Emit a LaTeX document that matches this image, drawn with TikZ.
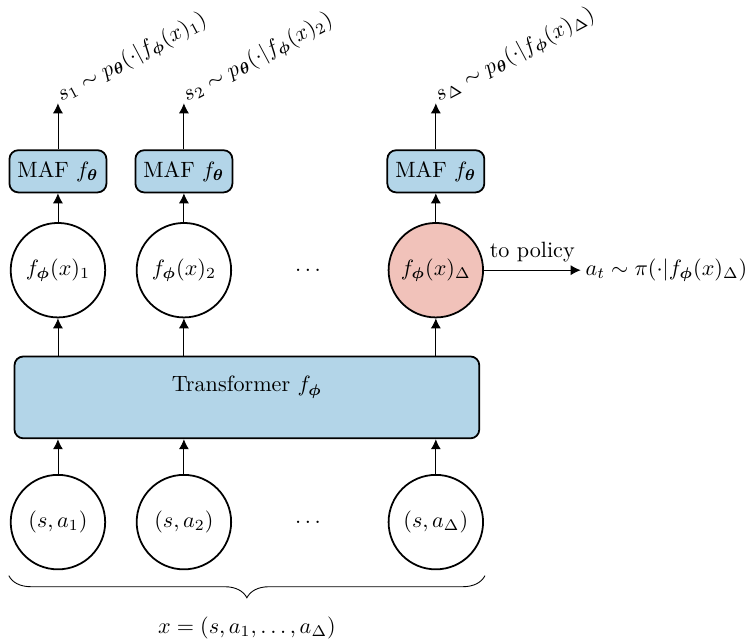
\documentclass[tikz,border=0pt]{standalone}
\usepackage{amsmath,amssymb}
\usepackage{bm}
\usepackage{tikz}
\usetikzlibrary{arrows.meta}
\usetikzlibrary{decorations.pathreplacing}

\definecolor{blockblue}{RGB}{179,213,232}
\definecolor{outred}{RGB}{241,194,186}

\tikzset{
    token/.style={draw,circle,thick,minimum size=1.5cm,inner sep=0pt},
    block/.style={draw,thick,rounded corners=4pt,fill=blockblue},
    flow/.style={-{Latex[length=4.5pt,width=4.5pt]}},
    sample/.style={rotate=28,anchor=base west,inner sep=1.5pt},
}

\begin{document}
\begin{tikzpicture}
        \useasboundingbox (-0.92,-1.86) rectangle (11.02,8.29);

        % inputs
        \node[token] (in1) at (0,0) {$(s,a_1)$};
        \node[token] (in2) at (2,0) {$(s,a_2)$};
        \node (indots) at (4,0) {$\dots$};
        \node[token] (in3) at (6,0) {$(s,a_\Delta)$};

        \draw[decorate,decoration={brace,mirror,amplitude=10pt}]
            (-0.78,-0.85) -- (6.78,-0.85);
        \node (x) at (3,-1.68) {$x=(s,a_1,\dots,a_\Delta)$};

        % transformer
        \node[block,minimum width=7.38cm,minimum height=1.3cm] (trans) at (3,1.98) {};
        \node (translabel) at (3,2.14) {Transformer $f_{\bm{\phi}}$};

        \draw[flow] (in1) -- (in1 |- trans.south);
        \draw[flow] (in2) -- (in2 |- trans.south);
        \draw[flow] (in3) -- (in3 |- trans.south);

        % embeddings
        \node[token] (emb1) at (0,4) {$f_{\bm{\phi}}(x)_1$};
        \node[token] (emb2) at (2,4) {$f_{\bm{\phi}}(x)_2$};
        \node (embdots) at (4,4) {$\dots$};
        \node[token,fill=outred] (emb3) at (6,4) {$f_{\bm{\phi}}(x)_\Delta$};

        \draw[flow] (emb1 |- trans.north) -- (emb1);
        \draw[flow] (emb2 |- trans.north) -- (emb2);
        \draw[flow] (emb3 |- trans.north) -- (emb3);

        % flows
        \node[block,minimum width=1.54cm,minimum height=0.67cm] (maf1) at (0,5.57) {MAF $f_{\bm{\theta}}$};
        \node[block,minimum width=1.54cm,minimum height=0.67cm] (maf2) at (2,5.57) {MAF $f_{\bm{\theta}}$};
        \node[block,minimum width=1.54cm,minimum height=0.67cm] (maf3) at (6,5.57) {MAF $f_{\bm{\theta}}$};

        \draw[flow] (emb1) -- (maf1);
        \draw[flow] (emb2) -- (maf2);
        \draw[flow] (emb3) -- (maf3);

        % samples
        \coordinate (s1) at (0,6.65);
        \coordinate (s2) at (2,6.65);
        \coordinate (s3) at (6,6.65);

        \draw[flow] (maf1) -- (s1);
        \draw[flow] (maf2) -- (s2);
        \draw[flow] (maf3) -- (s3);

        \node[sample] (p1) at (s1) {$s_1\sim p_{\bm{\theta}}(\cdot|f_{\bm{\phi}}(x)_1)$};
        \node[sample] (p2) at (s2) {$s_2\sim p_{\bm{\theta}}(\cdot|f_{\bm{\phi}}(x)_2)$};
        \node[sample] (p3) at (s3) {$s_\Delta\sim p_{\bm{\theta}}(\cdot|f_{\bm{\phi}}(x)_\Delta)$};

        % policy
        \node[anchor=west,inner sep=2pt] (act) at (8.3,4) {$a_t\sim\pi(\cdot|f_{\bm{\phi}}(x)_\Delta)$};
        \draw[flow] (emb3) -- node[above] {to policy} (act);

    \end{tikzpicture}
\end{document}
